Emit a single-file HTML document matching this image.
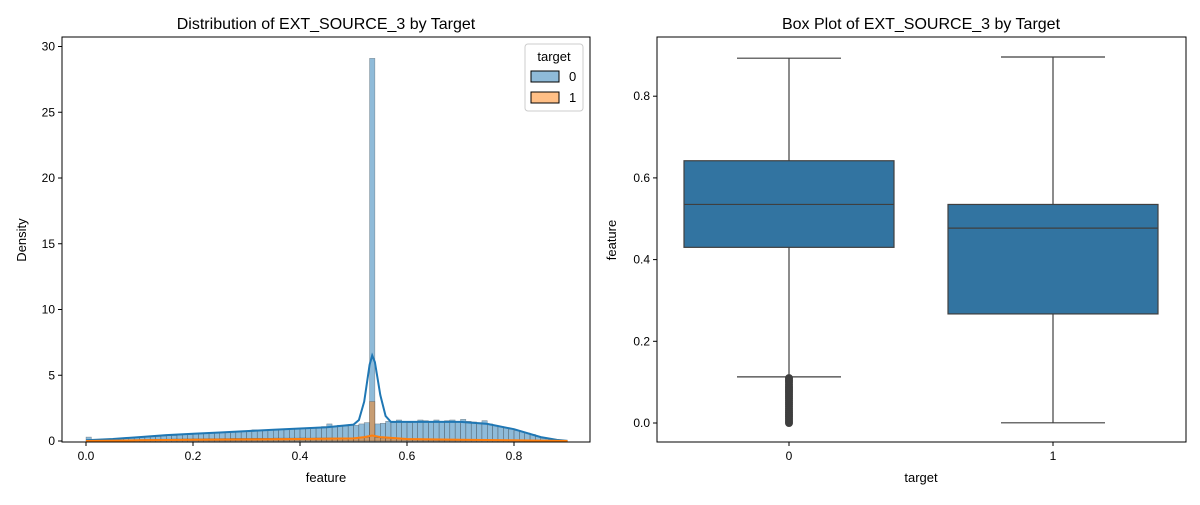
<!DOCTYPE html>
<html><head><meta charset="utf-8"><style>
body{margin:0;background:#fff;}
svg text{font-family:"Liberation Sans","DejaVu Sans",sans-serif;fill:#000;}
</style></head><body>
<svg id="chart" width="1200" height="500" viewBox="0 0 1200 500" xmlns="http://www.w3.org/2000/svg">
<rect width="1200" height="500" fill="#fff"/>
<g id="left"></g>
<g id="right"></g>
</svg>
<script>
// ---- Left histogram data ----
const binStart = 0.0;
const binWidth = 0.01;
const hist0 = [0.3,0.05,0.08,0.1,0.12,0.15,0.18,0.2,0.22,0.25,
0.28,0.3,0.32,0.35,0.38,0.4,0.42,0.45,0.48,0.5,
0.52,0.55,0.58,0.6,0.62,0.65,0.68,0.7,0.72,0.72,
0.75,0.85,0.78,0.8,0.82,0.85,0.88,0.9,0.92,0.95,
1.0,0.95,1.0,1.05,1.1,1.3,1.1,1.2,1.15,1.25,
1.2,1.3,1.4,29.1,1.3,1.35,1.5,1.4,1.6,1.5,
1.4,1.5,1.6,1.55,1.5,1.6,1.45,1.55,1.6,1.5,
1.65,1.5,1.45,1.4,1.55,1.3,1.2,1.1,1.0,0.9,
0.8,0.7,0.6,0.5,0.35,0.2,0.1,0.05,0.02,0.01];
const hist1 = [0.02,0.02,0.03,0.04,0.05,0.06,0.07,0.08,0.09,0.1,
0.11,0.12,0.12,0.13,0.14,0.14,0.15,0.15,0.16,0.16,
0.17,0.17,0.18,0.18,0.18,0.19,0.19,0.2,0.2,0.2,
0.2,0.21,0.21,0.21,0.21,0.22,0.22,0.22,0.22,0.22,
0.23,0.22,0.22,0.23,0.23,0.24,0.23,0.24,0.24,0.25,
0.25,0.26,0.27,3.0,0.25,0.22,0.2,0.18,0.17,0.16,
0.15,0.14,0.14,0.13,0.12,0.12,0.11,0.11,0.1,0.1,
0.1,0.09,0.09,0.08,0.08,0.07,0.06,0.06,0.05,0.05,
0.04,0.04,0.03,0.03,0.02,0.02,0.01,0.01,0.005,0.002];
const kde0X = [0,0.05,0.1,0.15,0.2,0.25,0.3,0.35,0.4,0.45,0.5,0.51,0.52,0.53,0.535,0.54,0.55,0.56,0.57,0.6,0.65,0.7,0.75,0.8,0.85,0.88,0.9];
const kde0Y = [0.05,0.15,0.3,0.45,0.55,0.65,0.75,0.85,0.95,1.05,1.25,1.6,3.0,5.8,6.5,6.0,3.5,1.9,1.45,1.45,1.45,1.45,1.3,0.9,0.3,0.08,0.01];
const kde1X = [0,0.1,0.2,0.3,0.4,0.5,0.52,0.535,0.55,0.6,0.7,0.8,0.9];
const kde1Y = [0,0.05,0.1,0.12,0.15,0.2,0.3,0.42,0.3,0.15,0.1,0.05,0];
const xTicksL = [0.0,0.2,0.4,0.6,0.8];
const yTicksL = [0,5,10,15,20,25,30];
// ---- Right boxplot data ----
const boxCats = ["0","1"];
const boxQ1 = [0.43,0.267];
const boxMed = [0.535,0.477];
const boxQ3 = [0.642,0.535];
const boxLo = [0.113,0.0005];
const boxHi = [0.893,0.896];
const outliers0 = [0.0,0.005,0.01,0.015,0.02,0.025,0.03,0.035,0.04,0.045,0.05,0.055,0.06,0.065,0.07,0.075,0.08,0.085,0.09,0.095,0.1,0.105,0.11];
const yTicksR = [0.0,0.2,0.4,0.6,0.8];

const NS="http://www.w3.org/2000/svg";
function mk(parent,tag,attrs,text){const e=document.createElementNS(NS,tag);for(const k in attrs)e.setAttribute(k,attrs[k]);if(text!==undefined)e.textContent=text;parent.appendChild(e);return e;}

// Left axes
const L=document.getElementById('left');
const lx0=62,lx1=590,ly0=37,ly1=442;
const xL=v=>86+v*535;
const yL=v=>441-v*13.15;
mk(L,'text',{x:326,y:29,'font-size':16,'text-anchor':'middle'},'Distribution of EXT_SOURCE_3 by Target');
hist0.forEach((d,i)=>{const x=xL(binStart+i*binWidth);const r=mk(L,'rect',{x:x,y:yL(d),width:xL(binWidth)-xL(0),height:yL(0)-yL(d),fill:'#1f77b4','fill-opacity':0.5,stroke:'#333','stroke-opacity':0.5,'stroke-width':0.5});

});
hist1.forEach((d,i)=>{const x=xL(binStart+i*binWidth);const r=mk(L,'rect',{x:x,y:yL(d),width:xL(binWidth)-xL(0),height:yL(0)-yL(d),fill:'#ff7f0e','fill-opacity':0.5,stroke:'#333','stroke-opacity':0.5,'stroke-width':0.5});

});
function line(xs,ys,col,name){const p=xs.map((x,i)=>(i?'L':'M')+xL(x).toFixed(1)+','+yL(ys[i]).toFixed(1)).join('');const e=mk(L,'path',{d:p,fill:'none',stroke:col,'stroke-width':2});

}
line(kde0X,kde0Y,'#1f77b4','kde-target0');
line(kde1X,kde1Y,'#ff7f0e','kde-target1');
mk(L,'rect',{x:lx0,y:ly0,width:lx1-lx0,height:ly1-ly0,fill:'none',stroke:'#000','stroke-width':1});
xTicksL.forEach(t=>{const x=xL(t);mk(L,'line',{x1:x,x2:x,y1:ly1,y2:ly1+4,stroke:'#000'});const e=mk(L,'text',{x:x,y:ly1+18,'font-size':12,'text-anchor':'middle'},t.toFixed(1));

});
yTicksL.forEach(t=>{const y=yL(t);mk(L,'line',{x1:lx0-4,x2:lx0,y1:y,y2:y,stroke:'#000'});const e=mk(L,'text',{x:lx0-7,y:y+4,'font-size':12,'text-anchor':'end'},String(t));

});
mk(L,'text',{x:326,y:482,'font-size':13,'text-anchor':'middle'},'feature');
mk(L,'text',{x:26,y:240,'font-size':13,'text-anchor':'middle',transform:'rotate(-90 26 240)'},'Density');
// legend
const lg=mk(L,'g',{});


mk(lg,'rect',{x:525,y:44,width:58,height:67,rx:3,fill:'#fff',stroke:'#ccc','fill-opacity':0.8});
mk(lg,'text',{x:554,y:61,'font-size':13,'text-anchor':'middle'},'target');
mk(lg,'rect',{x:531,y:71,width:28,height:11,fill:'#8fbbd9',stroke:'#000'});
mk(lg,'text',{x:569,y:81,'font-size':13},'0');
mk(lg,'rect',{x:531,y:92,width:28,height:11,fill:'#ffbf86',stroke:'#000'});
mk(lg,'text',{x:569,y:102,'font-size':13},'1');

// Right axes
const R=document.getElementById('right');
const rx0=657,rx1=1186,ry0=37,ry1=442;
const xR=i=>789+i*264;
const yR=v=>423-v*408.5;
mk(R,'text',{x:921,y:29,'font-size':16,'text-anchor':'middle'},'Box Plot of EXT_SOURCE_3 by Target');
boxCats.forEach((c,i)=>{const cx=xR(i),hw=105;
const g=mk(R,'g',{});


mk(g,'line',{x1:cx,x2:cx,y1:yR(boxHi[i]),y2:yR(boxQ3[i]),stroke:'#3f3f3f','stroke-width':1.2});
mk(g,'line',{x1:cx,x2:cx,y1:yR(boxQ1[i]),y2:yR(boxLo[i]),stroke:'#3f3f3f','stroke-width':1.2});
mk(g,'line',{x1:cx-52,x2:cx+52,y1:yR(boxHi[i]),y2:yR(boxHi[i]),stroke:'#3f3f3f','stroke-width':1.2});
mk(g,'line',{x1:cx-52,x2:cx+52,y1:yR(boxLo[i]),y2:yR(boxLo[i]),stroke:'#3f3f3f','stroke-width':1.2});
mk(g,'rect',{x:cx-hw,y:yR(boxQ3[i]),width:2*hw,height:yR(boxQ1[i])-yR(boxQ3[i]),fill:'#3274a1',stroke:'#3f3f3f','stroke-width':1.2});
mk(g,'line',{x1:cx-hw,x2:cx+hw,y1:yR(boxMed[i]),y2:yR(boxMed[i]),stroke:'#3f3f3f','stroke-width':1.2});
const e=mk(R,'text',{x:cx,y:ry1+18,'font-size':12,'text-anchor':'middle'},c);


mk(R,'line',{x1:cx,x2:cx,y1:ry1,y2:ry1+4,stroke:'#000'});});
outliers0.forEach(v=>{const e=mk(R,'circle',{cx:xR(0),cy:yR(v),r:3.5,fill:'#3f3f3f',stroke:'#3f3f3f'});

});
mk(R,'rect',{x:rx0,y:ry0,width:rx1-rx0,height:ry1-ry0,fill:'none',stroke:'#000','stroke-width':1});
yTicksR.forEach(t=>{const y=yR(t);mk(R,'line',{x1:rx0-4,x2:rx0,y1:y,y2:y,stroke:'#000'});const e=mk(R,'text',{x:rx0-7,y:y+4,'font-size':12,'text-anchor':'end'},t.toFixed(1));

});
mk(R,'text',{x:921,y:482,'font-size':13,'text-anchor':'middle'},'target');
mk(R,'text',{x:616,y:240,'font-size':13,'text-anchor':'middle',transform:'rotate(-90 616 240)'},'feature');
</script>
</body></html>
